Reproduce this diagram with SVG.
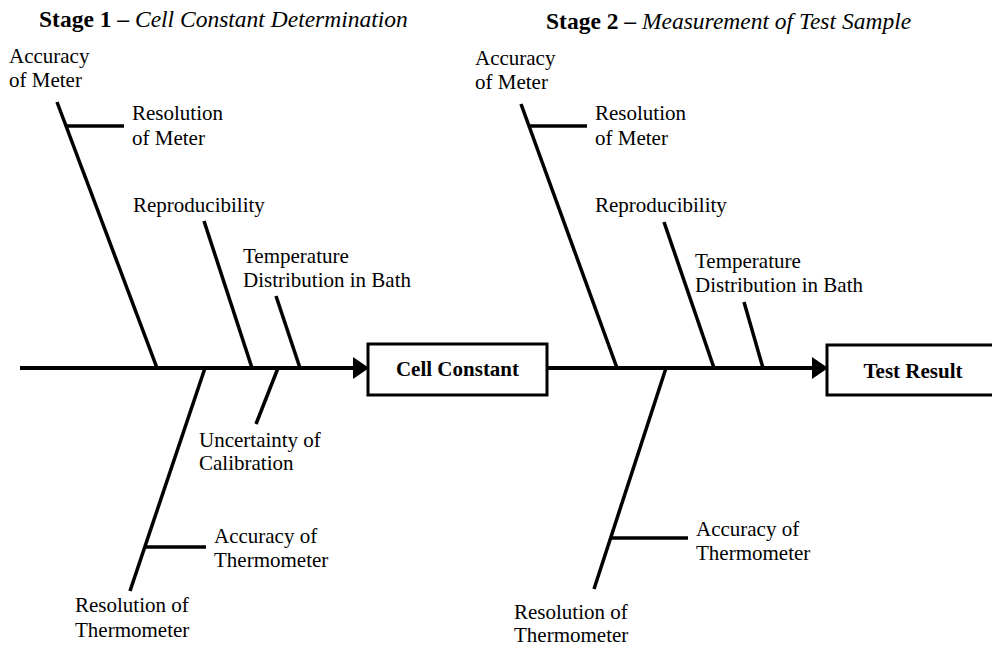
<svg xmlns="http://www.w3.org/2000/svg" width="992" height="646" viewBox="0 0 992 646">
<style>
text{font-family:'Liberation Serif',Tinos,'Times New Roman',Times,serif}
.lbl{font-size:21px;fill:#000}
.ttl{font-size:23.5px;fill:#000}
.box{fill:#fff;stroke:#000;stroke-width:3}
.boxt{font-size:21px;font-weight:bold;text-anchor:middle;fill:#000}
.spine{stroke:#000;stroke-width:4;fill:none}
.br{stroke:#000;stroke-width:3.5;fill:none}
.head{fill:#000}
</style>
<rect width="992" height="646" fill="#fff"/>
<g id="titles" font-family="Liberation Serif, serif">
<text class="ttl" x="39" y="27"><tspan font-weight="bold">Stage 1 –</tspan><tspan font-style="italic"> Cell Constant Determination</tspan></text>
<text class="ttl" x="546" y="29"><tspan font-weight="bold">Stage 2 –</tspan><tspan font-style="italic"> Measurement of Test Sample</tspan></text>
</g>
<g id="connectors">
<line class="spine" x1="20" y1="368" x2="354" y2="368"/>
<polygon class="head" points="353,357 369,368 353,379"/>
<line class="spine" x1="547" y1="368" x2="813" y2="368"/>
<polygon class="head" points="812,357 828,368 812,379"/>
<line class="br" x1="57" y1="102" x2="157" y2="368"/>
<line class="br" x1="67" y1="126" x2="124" y2="126"/>
<line class="br" x1="204" y1="221" x2="252" y2="368"/>
<line class="br" x1="276" y1="296" x2="300" y2="368"/>
<line class="br" x1="205" y1="368" x2="130" y2="591"/>
<line class="br" x1="145" y1="547" x2="206" y2="547"/>
<line class="br" x1="278" y1="368" x2="256" y2="424"/>
<line class="br" x1="521" y1="104" x2="617" y2="368"/>
<line class="br" x1="529" y1="126" x2="587" y2="126"/>
<line class="br" x1="664" y1="222" x2="714" y2="368"/>
<line class="br" x1="744" y1="302" x2="763" y2="368"/>
<line class="br" x1="666" y1="368" x2="594" y2="589"/>
<line class="br" x1="611" y1="538" x2="688" y2="538"/>
</g>
<g id="cell-constant" font-family="Liberation Serif, serif">
<rect class="box" x="368" y="344" width="179" height="51"/>
<text class="boxt" x="457.5" y="376">Cell Constant</text>
</g>
<g id="test-result" font-family="Liberation Serif, serif">
<rect class="box" x="827" y="345" width="172" height="50"/>
<text class="boxt" x="913" y="378">Test Result</text>
</g>
<g id="s1-accuracy-meter"><text class="lbl" x="9" y="63">Accuracy<tspan x="9" y="87">of Meter</tspan></text></g>
<g id="s1-resolution-meter"><text class="lbl" x="132" y="120">Resolution<tspan x="132" y="145">of Meter</tspan></text></g>
<g id="s1-reproducibility"><text class="lbl" x="133" y="212">Reproducibility</text></g>
<g id="s1-temperature"><text class="lbl" x="243" y="263">Temperature<tspan x="243" y="287">Distribution in Bath</tspan></text></g>
<g id="s1-calibration"><text class="lbl" x="199" y="447">Uncertainty of<tspan x="199" y="470">Calibration</tspan></text></g>
<g id="s1-accuracy-thermometer"><text class="lbl" x="214" y="543">Accuracy of<tspan x="214" y="567">Thermometer</tspan></text></g>
<g id="s1-resolution-thermometer"><text class="lbl" x="75" y="612">Resolution of<tspan x="75" y="637">Thermometer</tspan></text></g>
<g id="s2-accuracy-meter"><text class="lbl" x="475" y="65">Accuracy<tspan x="475" y="89">of Meter</tspan></text></g>
<g id="s2-resolution-meter"><text class="lbl" x="595" y="120">Resolution<tspan x="595" y="145">of Meter</tspan></text></g>
<g id="s2-reproducibility"><text class="lbl" x="595" y="212">Reproducibility</text></g>
<g id="s2-temperature"><text class="lbl" x="695" y="268">Temperature<tspan x="695" y="292">Distribution in Bath</tspan></text></g>
<g id="s2-accuracy-thermometer"><text class="lbl" x="696" y="536">Accuracy of<tspan x="696" y="560">Thermometer</tspan></text></g>
<g id="s2-resolution-thermometer"><text class="lbl" x="514" y="619">Resolution of<tspan x="514" y="642">Thermometer</tspan></text></g>
</svg>
